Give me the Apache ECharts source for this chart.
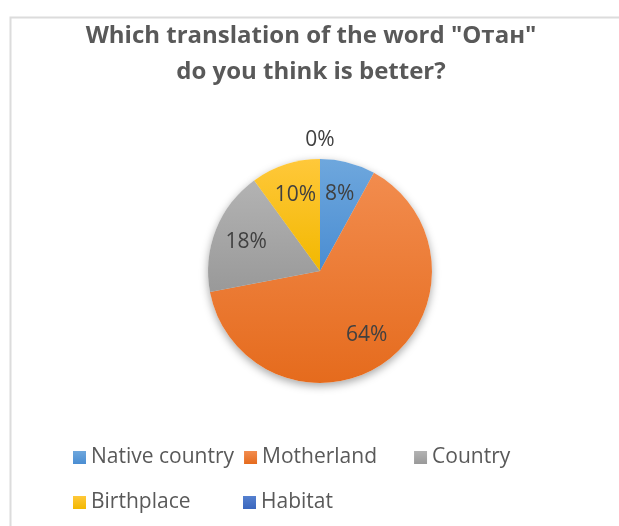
<!DOCTYPE html>
<html>
<head>
<meta charset="utf-8">
<script src="https://cdn.jsdelivr.net/npm/echarts@6/dist/echarts.min.js"></script>
<style>
  html, body { margin: 0; padding: 0; background: #ffffff; }
  #chart { width: 619px; height: 526px; }
</style>
</head>
<body>
<div id="chart"></div>
<script>
// Survey answers: share of respondents for each translation
const categories = ['Native country', 'Motherland', 'Country', 'Birthplace', 'Habitat'];
const shares = [8, 64, 18, 10, 0];
const titleLines = ['Which translation of the word "Отан"', 'do you think is better?'];

// Office-style palette, each with a light top and darker bottom shade
const sliceColors = [
  ['#6ea7dd', '#4a8dd2'],
  ['#f28c4e', '#e56b1d'],
  ['#b3b3b3', '#999999'],
  ['#ffc83a', '#f2b800'],
  ['#5580cf', '#3a67be']
];

const FONT = '"Open Sans", "Liberation Sans", sans-serif';
const CX = 320, CY = 271, R = 112;

function shade(pair) {
  return new echarts.graphic.LinearGradient(0, 0, 0, 1, [
    { offset: 0, color: pair[0] },
    { offset: 1, color: pair[1] }
  ]);
}

// mid angle of each slice, measured clockwise from 12 o'clock
const total = shares.reduce((a, b) => a + b, 0);
const midAngles = [];
shares.reduce((acc, v) => {
  midAngles.push((acc + v / 2) / total * 2 * Math.PI);
  return acc + v;
}, 0);

const mainData = categories.map((name, i) => ({
  name: name,
  value: shares[i],
  itemStyle: { color: shade(sliceColors[i]) }
}));

const chart = echarts.init(document.getElementById('chart'), null, { renderer: 'canvas' });

chart.setOption({
  backgroundColor: '#ffffff',
  animation: false,
  graphic: [{
    type: 'rect',
    left: 8, top: 15,
    shape: { width: 700, height: 600 },
    style: { fill: 'none', stroke: '#dcdcdc', lineWidth: 2 },
    silent: true,
    z: -10
  }],
  title: {
    text: titleLines.join('\n'),
    left: 311,
    textAlign: 'center',
    top: 18,
    padding: 0,
    textStyle: {
      fontFamily: FONT,
      fontWeight: 'bold',
      fontSize: 24,
      lineHeight: 36,
      color: '#595959'
    }
  },
  legend: {
    data: categories,
    left: 73,
    top: 440,
    width: 520,
    padding: 0,
    orient: 'horizontal',
    icon: 'rect',
    itemWidth: 13,
    itemHeight: 13,
    itemGap: 10,
    textStyle: {
      fontFamily: FONT,
      fontSize: 21,
      color: '#595959',
      width: 142,
      lineHeight: 35,
      padding: [0, 0, 0, 0]
    }
  },
  series: [
    {
      name: 'answers',
      type: 'pie',
      center: [CX, CY],
      radius: R,
      startAngle: 90,
      clockwise: true,
      avoidLabelOverlap: false,
      minShowLabelAngle: -1,
      z: 3,
      label: {
        show: true,
        position: 'outside',
        formatter: '{d}%',
        fontFamily: FONT,
        fontSize: 21,
        color: '#404040'
      },
      labelLine: { show: false, length: 0, length2: 0 },
      emphasis: { disabled: true },
      labelLayout: function (params) {
        const a = midAngles[params.dataIndex];
        const dist = shares[params.dataIndex] === 0 ? R * 1.17 : R * 0.71;
        return {
          x: CX + Math.sin(a) * dist,
          y: CY - Math.cos(a) * dist,
          align: 'center',
          verticalAlign: 'middle'
        };
      },
      data: mainData
    },
    {
      // soft drop shadow under the disc
      name: 'shadow',
      type: 'pie',
      center: [CX, CY],
      radius: R,
      startAngle: 90,
      clockwise: true,
      silent: true,
      z: 1,
      label: { show: false },
      labelLine: { show: false },
      itemStyle: {
        color: '#ffffff',
        shadowBlur: 8,
        shadowOffsetY: 3,
        shadowColor: 'rgba(0,0,0,0.35)'
      },
      emphasis: { disabled: true },
      data: categories.map((name, i) => ({ name: name, value: shares[i] }))
    }
  ]
});
</script>
</body>
</html>
